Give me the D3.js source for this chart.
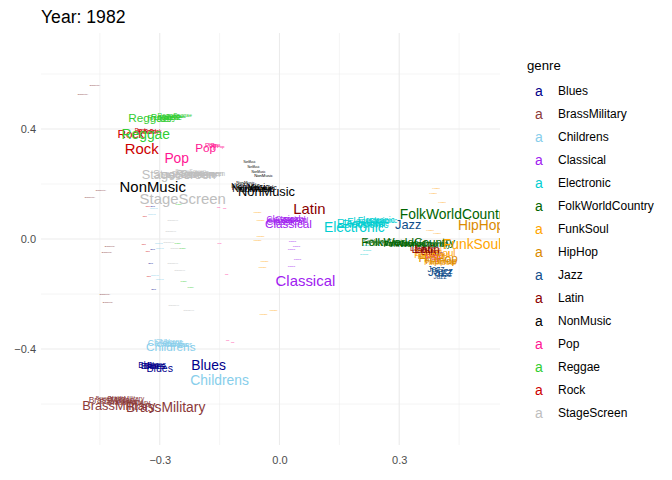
<!DOCTYPE html>
<html>
<head>
<meta charset="utf-8">
<script src="https://cdn.jsdelivr.net/npm/d3@7"></script>
<style>
  body { margin: 0; background: #fff; }
  text { font-family: "Liberation Sans", Arial, sans-serif; }
</style>
</head>
<body>
<svg width="672" height="480"></svg>
<script>
// Genres and colours
const genres = ["Blues", "BrassMilitary", "Childrens", "Classical", "Electronic",
  "FolkWorldCountry", "FunkSoul", "HipHop", "Jazz", "Latin", "NonMusic", "Pop",
  "Reggae", "Rock", "StageScreen"];
const genreColors = ["#00008B", "#8B3A3A", "#87CEEB", "#A020F0", "#00CED1",
  "#006400", "#FFA500", "#DA8A00", "#104E8B", "#8B0000", "#000000", "#FF1493",
  "#32CD32", "#CD0000", "#BEBEBE"];

// Tick values
const xTicks = [-0.3, 0.0, 0.3];
const xMinor = [-0.45, -0.15, 0.15, 0.45];
const yTicks = [-0.4, 0.0, 0.4];
const yMinor = [-0.6, -0.2, 0.2, 0.6];

// Points per genre: [x, y, n]
const blues = [[-0.3175, 0.12, 1.3], [-0.3175, -0.036, 1.3], [-0.3225, -0.087, 1.3], [-0.315, -0.182, 1.3],
  [-0.3275, -0.458, 28], [-0.3075, -0.455, 22], [-0.3175, -0.462, 36], [-0.30, -0.469, 44],
  [-0.3125, -0.46, 30], [-0.1775, -0.458, 75]];
const brassMilitary = [[-0.4625, 0.56, 1.3], [-0.4925, 0.527, 1.3], [-0.4475, 0.178, 1.3], [-0.475, 0.153, 1.3],
  [-0.425, -0.025, 1.3], [-0.4325, -0.047, 1.3], [-0.4375, -0.2, 1.3], [-0.43, -0.229, 1.3],
  [-0.4225, -0.578, 11], [-0.385, -0.582, 16], [-0.3775, -0.593, 22], [-0.3975, -0.589, 22],
  [-0.4175, -0.585, 28], [-0.4025, -0.604, 64], [-0.285, -0.611, 75]];
const childrens = [[-0.315, 0.113, 1.3], [-0.32, 0.091, 1.3], [-0.3025, -0.015, 1.3], [-0.30, -0.033, 1.3],
  [-0.3125, -0.131, 1.3], [-0.30, -0.145, 1.3], [-0.2775, -0.375, 16], [-0.2525, -0.385, 16],
  [-0.2675, -0.382, 22], [-0.285, -0.378, 28], [-0.2725, -0.393, 54], [-0.15, -0.513, 75]];
const classical = [[0.0325, -0.007, 1.3], [0.0425, -0.025, 1.3], [0.03, -0.036, 1.3], [0.045, -0.073, 1.3],
  [0.03, -0.098, 1.3], [0.0025, 0.065, 16], [0.04, 0.069, 16], [0.0275, 0.076, 22], [0.01, 0.073, 28],
  [0.015, 0.062, 36], [0.0225, 0.055, 54], [0.065, -0.153, 87]];
const electronic = [[0.2175, -0.022, 1.3], [0.22, -0.04, 1.3], [0.2125, -0.055, 1.3], [0.26, 0.065, 16],
  [0.2325, 0.058, 22], [0.2425, 0.069, 28], [0.2225, 0.065, 36], [0.2025, 0.058, 44],
  [0.215, 0.055, 44], [0.1875, 0.044, 75]];
const folkWorldCountry = [[0.265, -0.007, 11], [0.3575, -0.022, 16], [0.3275, -0.018, 16],
  [0.29, -0.015, 22], [0.345, -0.02, 28], [0.3225, -0.011, 54], [0.44, 0.091, 75]];
const funkSoul = [[0.385, 0.167, 1.3], [0.4075, 0.135, 1.3], [0.3925, 0.185, 1.3], [0.3775, 0.033, 1.3],
  [0.395, 0.022, 1.3], [-0.055, 0.098, 1.3], [-0.0475, 0.069, 1.3], [-0.0475, 0.011, 1.3], [-0.055, -0.004, 1.3],
  [-0.0375, -0.08, 1.3], [-0.0425, -0.102, 1.3], [-0.015, -0.258, 1.3], [-0.04, -0.273, 1.3],
  [0.3725, -0.04, 16], [0.4025, -0.084, 22], [0.3825, -0.058, 28], [0.39, -0.05, 36], [0.4825, -0.018, 75]];
const hipHop = [[0.415, -0.084, 16], [0.3775, -0.062, 22], [0.405, -0.078, 36], [0.3975, -0.069, 54],
  [0.505, 0.051, 75]];
const jazz = [[0.4025, -0.138, 16], [0.4125, -0.127, 22], [0.3925, -0.109, 28], [0.41, -0.115, 36],
  [0.4025, -0.12, 54], [0.3225, 0.051, 64]];
const latin = [[0.3925, -0.055, 16], [0.3475, -0.033, 22], [0.3775, -0.047, 28], [0.3575, -0.04, 36],
  [0.37, -0.037, 54], [0.075, 0.109, 87]];
const nonMusic = [[-0.075, 0.28, 3], [-0.065, 0.262, 3], [-0.0525, 0.244, 4], [-0.04, 0.229, 7],
  [-0.085, 0.204, 7], [-0.085, 0.193, 16], [-0.0425, 0.185, 16], [-0.0575, 0.182, 22],
  [-0.0725, 0.189, 28], [-0.065, 0.183, 36], [-0.0325, 0.171, 64], [-0.3175, 0.189, 87]];
const pop = [[-0.1525, 0.116, 1.3], [-0.1375, 0.113, 1.3], [-0.15, -0.015, 2], [-0.1325, -0.127, 1.3],
  [-0.13, -0.367, 1.3], [-0.1175, -0.375, 1.3], [-0.1475, 0.335, 7], [-0.1675, 0.345, 7],
  [-0.16, 0.342, 11], [-0.1725, 0.338, 16], [0.385, -0.065, 28], [-0.185, 0.331, 54], [-0.2575, 0.295, 75]];
const reggae = [[-0.2525, 0.127, 1.3], [-0.255, -0.015, 1.3], [-0.2425, -0.033, 1.3], [-0.24, -0.153, 1.3],
  [-0.2225, -0.175, 1.3], [-0.26, 0.447, 11], [-0.2425, 0.451, 11], [-0.2775, 0.447, 16],
  [-0.2725, 0.44, 16], [-0.2975, 0.444, 22], [-0.285, 0.442, 28], [-0.3275, 0.44, 54], [-0.335, 0.382, 75]];
const rock = [[-0.33, 0.12, 1.3], [-0.3375, 0.084, 1.3], [-0.34, -0.018, 1.3], [-0.33, -0.044, 1.3],
  [-0.3275, -0.135, 1.3], [-0.31, 0.393, 11], [-0.3475, 0.396, 11], [-0.3225, 0.389, 16],
  [-0.335, 0.393, 22], [-0.3725, 0.382, 54], [-0.345, 0.327, 87]];
const stageScreen = [[-0.2675, 0.069, 1.3], [-0.2725, 0.029, 1.3], [-0.2775, -0.011, 1.3], [-0.26, -0.033, 1.3],
  [-0.2675, -0.087, 1.3], [-0.25, -0.113, 1.3], [-0.265, -0.24, 1.3], [-0.2275, -0.258, 1.3],
  [-0.2225, 0.247, 11], [-0.1825, 0.236, 16], [-0.195, 0.24, 22], [-0.21, 0.236, 28],
  [-0.2275, 0.233, 36], [-0.24, 0.235, 44], [-0.2525, 0.233, 64], [-0.2425, 0.145, 87]];

const seriesPoints = [blues, brassMilitary, childrens, classical, electronic, folkWorldCountry,
  funkSoul, hipHop, jazz, latin, nonMusic, pop, reggae, rock, stageScreen];

const rows = [];
genres.forEach((g, i) => seriesPoints[i].forEach(p => rows.push({genre: g, x: p[0], y: p[1], n: p[2]})));
rows.sort((a, b) => a.n - b.n);

const svg = d3.select("svg");
const panelL = 41, panelR = 500, panelT = 33, panelB = 445;

const x = d3.scaleLinear().domain([-0.5975, 0.5525]).range([panelL, panelR]);
const y = d3.scaleLinear().domain([-0.749, 0.749]).range([panelB, panelT]);
const size = d3.scaleSqrt().domain([0, 100]).range([0, 16]);
const color = d3.scaleOrdinal().domain(genres).range(genreColors);

// Grid
const grid = svg.append("g");
grid.selectAll(".vmin").data(xMinor).enter().append("line")
  .attr("x1", d => x(d)).attr("x2", d => x(d)).attr("y1", panelT).attr("y2", panelB)
  .attr("stroke", "#EBEBEB").attr("stroke-width", 0.55);
grid.selectAll(".hmin").data(yMinor).enter().append("line")
  .attr("y1", d => y(d)).attr("y2", d => y(d)).attr("x1", panelL).attr("x2", panelR)
  .attr("stroke", "#EBEBEB").attr("stroke-width", 0.55);
grid.selectAll(".vmaj").data(xTicks).enter().append("line")
  .attr("x1", d => x(d)).attr("x2", d => x(d)).attr("y1", panelT).attr("y2", panelB)
  .attr("stroke", "#EBEBEB").attr("stroke-width", 1.1);
grid.selectAll(".hmaj").data(yTicks).enter().append("line")
  .attr("y1", d => y(d)).attr("y2", d => y(d)).attr("x1", panelL).attr("x2", panelR)
  .attr("stroke", "#EBEBEB").attr("stroke-width", 1.1);

// Axis labels
const xAxis = svg.append("g").attr("transform", `translate(0,${panelB})`)
  .call(d3.axisBottom(x).tickValues(xTicks).tickFormat(d3.format(".1f")).tickSize(0).tickPadding(11));
const yAxis = svg.append("g").attr("transform", `translate(${panelL},0)`)
  .call(d3.axisLeft(y).tickValues(yTicks).tickFormat(d3.format(".1f")).tickSize(0).tickPadding(5));
[xAxis, yAxis].forEach(a => {
  a.select(".domain").remove();
  a.selectAll("text").attr("fill", "#4D4D4D").style("font-size", "11px")
    .style("font-family", "'Liberation Sans', Arial, sans-serif");
});

// Text marks
svg.append("clipPath").attr("id", "panel").append("rect")
  .attr("x", panelL).attr("y", panelT).attr("width", panelR - panelL).attr("height", panelB - panelT);
svg.append("g").attr("clip-path", "url(#panel)")
  .selectAll("text").data(rows).enter().append("text")
  .attr("x", d => x(d.x)).attr("y", d => y(d.y))
  .attr("text-anchor", "middle").attr("dy", "0.35em")
  .style("font-size", d => size(d.n) + "px")
  .attr("fill", d => color(d.genre))
  .text(d => d.genre);

// Title
svg.append("text").attr("x", panelL).attr("y", 23)
  .style("font-size", "17.6px").attr("fill", "#000").text("Year: 1982");

// Legend
const legend = svg.append("g");
legend.append("text").attr("x", 527).attr("y", 70).style("font-size", "13.2px").text("genre");
const items = legend.selectAll(".item").data(genres).enter().append("g")
  .attr("transform", (d, i) => `translate(0,${91 + i * 23})`);
items.append("text").attr("x", 539).attr("dy", "0.35em").attr("text-anchor", "middle")
  .style("font-size", "14px").attr("fill", d => color(d)).text("a");
items.append("text").attr("x", 558).attr("dy", "0.35em")
  .style("font-size", "12px").attr("fill", "#000").text(d => d);
</script>
</body>
</html>
